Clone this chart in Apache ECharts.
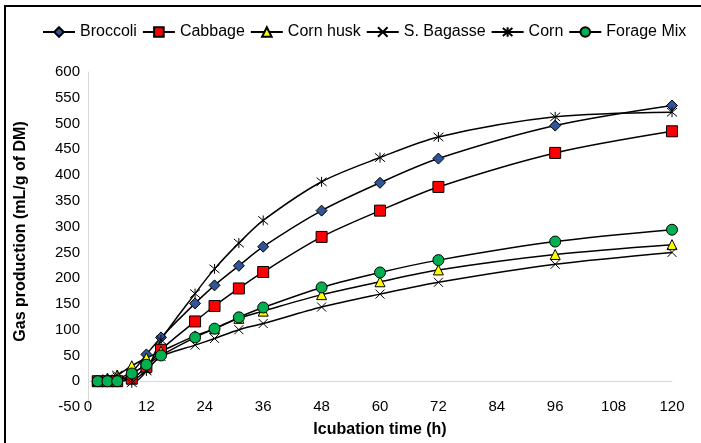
<!DOCTYPE html>
<html>
<head>
<meta charset="utf-8">
<script src="https://cdn.jsdelivr.net/npm/echarts@6/dist/echarts.min.js"></script>
<style>
  html, body { margin: 0; padding: 0; background: #fff; }
  #chart { width: 701px; height: 443px; }
</style>
</head>
<body>
<div id="chart"></div>
<script>
// sampling times (h)
const times = [2, 4, 6, 9, 12, 15, 22, 26, 31, 36, 48, 60, 72, 96, 120];

// gas production (mL/g of DM)
const broccoli = [0, 2, 5, 18, 52, 85, 151, 186, 224, 261, 331, 385, 432, 496, 535];
const cabbage = [0, 0, 0, 5, 28, 61, 116, 146, 180, 212, 280, 331, 377, 443, 485];
const cornHusk = [0, 6, 12, 30, 45, 58, 88, 102, 122, 136, 168, 193, 216, 246, 265];
const sBagasse = [0, 3, 8, 2, 22, 48, 70, 83, 100, 112, 144, 169, 192, 227, 250];
const corn = [0, 5, 12, -3, 20, 80, 170, 218, 268, 312, 387, 434, 474, 513, 522];
const forageMix = [0, 0, 0, 15, 32, 50, 85, 102, 124, 143, 182, 211, 235, 271, 294];

const font = '"Liberation Sans", Arial, sans-serif';

const crossPath = 'path://M0,0L10,10M10,0L0,10';
const starPath = 'path://M0,0L10,10M10,0L0,10M5,-1L5,11';

const makeSeries = (name, values, symbol, fill, size) => ({
  name,
  type: 'line',
  smooth: 0.3,
  data: times.map((t, i) => [t, values[i]]),
  symbol,
  symbolSize: size,
  showAllSymbol: true,
  lineStyle: { color: '#000', width: 1.5 },
  itemStyle: { color: fill, borderColor: '#000', borderWidth: 1 },
  emphasis: { disabled: true },
});

const chart = echarts.init(document.getElementById('chart'));

const option = {
  animation: false,
  backgroundColor: '#fff',
  textStyle: { fontFamily: font },
  // frame of the original figure (only top and left edges are in view)
  graphic: [{
    type: 'polyline',
    shape: { points: [[5, 443], [5, 6], [701, 6]] },
    style: { fill: 'none', stroke: '#000', lineWidth: 2 },
    silent: true,
  }],
  legend: {
    top: 19,
    left: 37,
    itemWidth: 32,
    itemHeight: 12,
    itemGap: 5,
    textStyle: { fontSize: 16, color: '#000', fontFamily: font },
    data: ['Broccoli', 'Cabbage', 'Corn husk', 'S. Bagasse', 'Corn', 'Forage Mix'],
  },
  grid: { left: 88, right: 29, top: 72, bottom: 34 },
  xAxis: [{
    type: 'value',
    min: 0,
    max: 120,
    interval: 12,
    name: 'Icubation time (h)',
    nameLocation: 'middle',
    nameGap: 15,
    nameTextStyle: { fontSize: 16, fontWeight: 'bold', color: '#000', fontFamily: font },
    axisLine: { show: false, onZero: false },
    axisTick: { show: false },
    splitLine: { show: false },
    axisLabel: { fontSize: 15, color: '#000', margin: 0, verticalAlign: 'middle', fontFamily: font },
  }, {
    // gray line through y = 0
    type: 'value',
    min: 0,
    max: 120,
    axisLine: { show: true, onZero: true, lineStyle: { color: '#d9d9d9', width: 1 } },
    axisTick: { show: false },
    axisLabel: { show: false },
    splitLine: { show: false },
  }],
  yAxis: {
    type: 'value',
    min: -50,
    max: 600,
    interval: 50,
    name: 'Gas production (mL/g of DM)',
    nameLocation: 'middle',
    nameGap: 59,
    nameTextStyle: { fontSize: 16, fontWeight: 'bold', color: '#000', fontFamily: font, padding: [0, 0, 0, 16] },
    axisLine: { show: true, lineStyle: { color: '#d9d9d9', width: 1 } },
    axisTick: { show: false },
    splitLine: { show: false },
    axisLabel: { fontSize: 15, color: '#000', margin: 8, fontFamily: font },
  },
  series: [
    makeSeries('Broccoli', broccoli, 'diamond', '#2F5597', 11),
    makeSeries('Cabbage', cabbage, 'rect', '#FF0000', 11),
    makeSeries('Corn husk', cornHusk, 'triangle', '#FFFF00', 10),
    makeSeries('S. Bagasse', sBagasse, crossPath, '#000', 9),
    makeSeries('Corn', corn, starPath, '#000', 10),
    makeSeries('Forage Mix', forageMix, 'circle', '#00B050', 11),
  ],
};

chart.setOption(option);
</script>
</body>
</html>
